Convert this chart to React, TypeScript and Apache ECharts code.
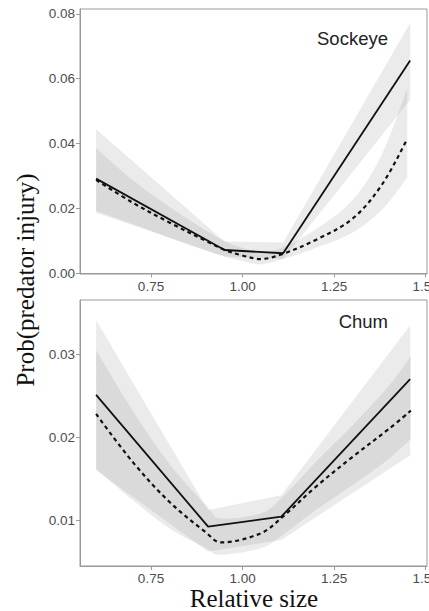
import React, { useEffect, useRef } from "react";
import * as echarts from "echarts";

// ---- Sockeye panel ----
// piecewise fit (solid) and its interval
const sockeyeLinearX = [0.6, 0.951, 1.111, 1.458];
const sockeyeLinear = [0.0292, 0.0072, 0.0062, 0.0656];
const sockeyeLinearLo = [0.0187, 0.0052, 0.0044, 0.0535];
const sockeyeLinearHi = [0.0444, 0.0098, 0.0095, 0.0772];
// smooth fit (dashed) and its interval
const sockeyeCurveX = [0.6, 0.7, 0.8, 0.9, 0.95, 1.0, 1.05, 1.11, 1.2, 1.3, 1.38, 1.45];
const sockeyeCurve = [0.0288, 0.0218, 0.0157, 0.01, 0.0073, 0.0055, 0.0044, 0.006, 0.0103, 0.0168, 0.0272, 0.0415];
const sockeyeCurveLo = [0.0192, 0.0152, 0.011, 0.007, 0.0052, 0.0038, 0.0028, 0.0044, 0.0078, 0.0125, 0.0195, 0.0295];
const sockeyeCurveHi = [0.0386, 0.0288, 0.0205, 0.0132, 0.01, 0.0078, 0.0066, 0.008, 0.0135, 0.0225, 0.0365, 0.057];

// ---- Chum panel ----
const chumLinearX = [0.6, 0.906, 1.106, 1.458];
const chumLinear = [0.0251, 0.0092, 0.0104, 0.027];
const chumLinearLo = [0.016, 0.0062, 0.0076, 0.0178];
const chumLinearHi = [0.0341, 0.0112, 0.013, 0.0335];
const chumCurveX = [0.6, 0.7, 0.8, 0.9, 0.94, 1.05, 1.11, 1.2, 1.3, 1.4, 1.46];
const chumCurve = [0.0228, 0.017, 0.0122, 0.0085, 0.0073, 0.0084, 0.0104, 0.014, 0.0176, 0.021, 0.0232];
const chumCurveLo = [0.0162, 0.0124, 0.009, 0.0066, 0.0058, 0.0066, 0.0082, 0.0112, 0.0142, 0.0174, 0.0198];
const chumCurveHi = [0.0305, 0.0232, 0.0168, 0.0118, 0.0102, 0.0108, 0.0128, 0.017, 0.0214, 0.0262, 0.0298];

// ---- axes ----
const xTicks = [0.75, 1.0, 1.25, 1.5];
const sockeyeYTicks = [0, 0.02, 0.04, 0.06, 0.08];
const chumYTicks = [0.01, 0.02, 0.03];
const panelNames = ["Sockeye", "Chum"];
const xTitle = "Relative size";
const yTitle = "Prob(predator injury)";

const BAND_FILL = "rgba(120,120,120,0.15)";
const FRAME = "#9a9a9a";
const TICK_TEXT = "#4d4d4d";
const SANS = '"Liberation Sans", Arial, sans-serif';
const SERIF = '"Liberation Serif", "Times New Roman", serif';

type Pt = number[];

function traceEdge(ctx: any, pts: Pt[], smooth: boolean) {
  for (let i = 0; i < pts.length - 1; i++) {
    const p1 = pts[i];
    const p2 = pts[i + 1];
    if (!smooth) {
      ctx.lineTo(p2[0], p2[1]);
      continue;
    }
    const p0 = pts[i - 1] || p1;
    const p3 = pts[i + 2] || p2;
    ctx.bezierCurveTo(
      p1[0] + (p2[0] - p0[0]) / 6,
      p1[1] + (p2[1] - p0[1]) / 6,
      p2[0] - (p3[0] - p1[0]) / 6,
      p2[1] - (p3[1] - p1[1]) / 6,
      p2[0],
      p2[1]
    );
  }
}

// Closed ribbon between an upper and a lower edge
const BandShape = echarts.graphic.extendShape({
  shape: { upper: [], lower: [], smooth: false },
  buildPath(ctx: any, shape: any) {
    const upper: Pt[] = shape.upper;
    const lower: Pt[] = shape.lower;
    if (!upper.length) return;
    ctx.moveTo(upper[0][0], upper[0][1]);
    traceEdge(ctx, upper, shape.smooth);
    const back = lower.slice().reverse();
    ctx.lineTo(back[0][0], back[0][1]);
    traceEdge(ctx, back, shape.smooth);
    ctx.closePath();
  },
});
echarts.graphic.registerShape("ciBand", BandShape);

function bandSeries(xs: number[], lo: number[], hi: number[], smooth: boolean, idx: number) {
  return {
    type: "custom",
    xAxisIndex: idx,
    yAxisIndex: idx,
    silent: true,
    clip: true,
    z: 1,
    data: xs.map((x, i) => [x, lo[i], hi[i]]),
    encode: { x: 0, y: [1, 2] },
    renderItem: (params: any, api: any) => {
      if (params.dataIndex !== 0) return null;
      const upper = xs.map((x, i) => api.coord([x, hi[i]]));
      const lower = xs.map((x, i) => api.coord([x, lo[i]]));
      return {
        type: "ciBand",
        shape: { upper, lower, smooth },
        style: { fill: BAND_FILL, stroke: null },
      };
    },
  };
}

function lineSeries(xs: number[], ys: number[], dashed: boolean, idx: number) {
  return {
    type: "line",
    xAxisIndex: idx,
    yAxisIndex: idx,
    data: xs.map((x, i) => [x, ys[i]]),
    symbol: "none",
    smooth: dashed ? 0.35 : false,
    silent: true,
    z: 3,
    lineStyle: {
      color: "#111",
      width: dashed ? 2.2 : 1.8,
      type: dashed ? [4, 3.5] : "solid",
    },
  };
}

function xAxis(idx: number) {
  return {
    type: "value",
    gridIndex: idx,
    min: 0.556,
    max: 1.504,
    axisLine: { show: true, lineStyle: { color: FRAME, width: 1 } },
    axisTick: { show: true, length: 4, customValues: xTicks, lineStyle: { color: FRAME } },
    axisLabel: {
      customValues: xTicks,
      formatter: (v: number) => v.toFixed(2),
      color: TICK_TEXT,
      fontFamily: SANS,
      fontSize: 13.5,
      margin: 5,
    },
    splitLine: { show: false },
  };
}

function yAxis(idx: number, min: number, max: number, ticks: number[]) {
  return {
    type: "value",
    gridIndex: idx,
    min,
    max,
    axisLine: { show: true, lineStyle: { color: FRAME, width: 1 } },
    axisTick: { show: true, length: 4, customValues: ticks, lineStyle: { color: FRAME } },
    axisLabel: {
      customValues: ticks,
      formatter: (v: number) => v.toFixed(2),
      color: TICK_TEXT,
      fontFamily: SANS,
      fontSize: 13.5,
      margin: 5,
    },
    splitLine: { show: false },
  };
}

export default function App() {
  const ref = useRef<HTMLDivElement>(null);

  useEffect(() => {
    if (!ref.current) return;
    const chart = echarts.init(ref.current, null, { renderer: "svg" });
    chart.setOption({
      animation: false,
      backgroundColor: "#ffffff",
      grid: [
        {
          left: 80, top: 9, width: 347, height: 265,
          show: true, borderColor: FRAME, borderWidth: 1, backgroundColor: "transparent",
          containLabel: false, outerBoundsMode: "none",
        },
        {
          left: 80, top: 300, width: 347, height: 266,
          show: true, borderColor: FRAME, borderWidth: 1, backgroundColor: "transparent",
          containLabel: false, outerBoundsMode: "none",
        },
      ],
      xAxis: [xAxis(0), xAxis(1)],
      yAxis: [
        yAxis(0, -0.0002, 0.0815, sockeyeYTicks),
        yAxis(1, 0.00445, 0.03655, chumYTicks),
      ],
      series: [
        bandSeries(sockeyeLinearX, sockeyeLinearLo, sockeyeLinearHi, false, 0),
        bandSeries(sockeyeCurveX, sockeyeCurveLo, sockeyeCurveHi, true, 0),
        lineSeries(sockeyeLinearX, sockeyeLinear, false, 0),
        lineSeries(sockeyeCurveX, sockeyeCurve, true, 0),
        bandSeries(chumLinearX, chumLinearLo, chumLinearHi, false, 1),
        bandSeries(chumCurveX, chumCurveLo, chumCurveHi, true, 1),
        lineSeries(chumLinearX, chumLinear, false, 1),
        lineSeries(chumCurveX, chumCurve, true, 1),
      ],
      graphic: [
        {
          type: "text",
          x: 388,
          y: 38.5,
          style: { text: panelNames[0], font: `18.5px ${SANS}`, fill: "#222", align: "right", verticalAlign: "middle" },
        },
        {
          type: "text",
          x: 388,
          y: 321.8,
          style: { text: panelNames[1], font: `18.5px ${SANS}`, fill: "#222", align: "right", verticalAlign: "middle" },
        },
        {
          type: "text",
          x: 254,
          y: 598,
          style: { text: xTitle, font: `25px ${SERIF}`, fill: "#111", align: "center", verticalAlign: "middle" },
        },
        {
          type: "text",
          x: 25,
          y: 280,
          rotation: Math.PI / 2,
          style: { text: yTitle, font: `25px ${SERIF}`, fill: "#111", align: "center", verticalAlign: "middle" },
        },
      ],
    });
    return () => chart.dispose();
  }, []);

  return (
    <div
      ref={ref}
      style={{ position: "absolute", left: 0, top: 0, width: 429, height: 611 }}
    />
  );
}
